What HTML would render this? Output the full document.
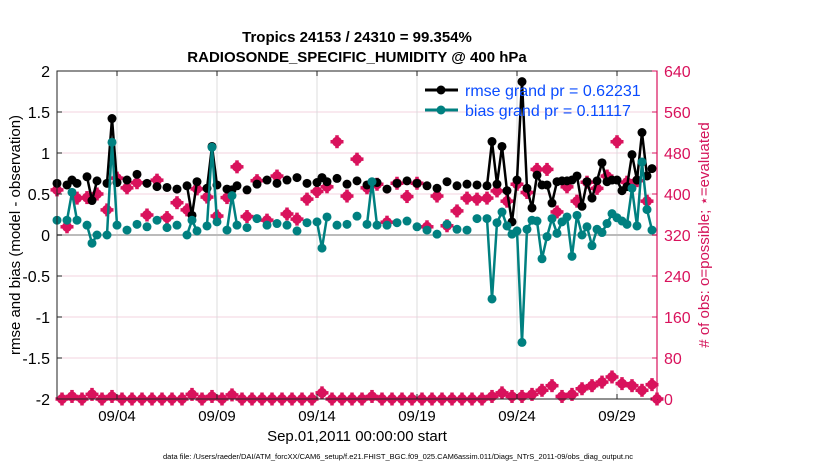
<!DOCTYPE html>
<html><head><meta charset="utf-8"><style>
body{margin:0;background:#fff;}
svg{display:block;font-family:"Liberation Sans",Arial,sans-serif;}
</style></head><body>
<svg id="chart" width="830" height="470" viewBox="0 0 830 470" xmlns="http://www.w3.org/2000/svg">
<rect width="830" height="470" fill="#fff"/>
<text x="357" y="64" text-anchor="middle" font-size="15" font-weight="bold" dy="-22">Tropics 24153 / 24310 = 99.354%</text>
<text x="357" y="62" text-anchor="middle" font-size="15" font-weight="bold">RADIOSONDE_SPECIFIC_HUMIDITY @ 400 hPa</text>
<g id="grid"></g>
<g id="marks"></g>
<g id="axes"></g>
<text transform="translate(20,235) rotate(-90)" text-anchor="middle" font-size="15">rmse and bias (model - observation)</text>
<text transform="translate(709,235) rotate(-90)" text-anchor="middle" font-size="15" fill="#d4145a"># of obs: o=possible; ⋆=evaluated</text>
<text x="357" y="441" text-anchor="middle" font-size="15">Sep.01,2011 00:00:00 start</text>
<text x="398" y="459" text-anchor="middle" font-size="7.5">data file: /Users/raeder/DAI/ATM_forcXX/CAM6_setup/f.e21.FHIST_BGC.f09_025.CAM6assim.011/Diags_NTrS_2011-09/obs_diag_output.nc</text>
<g>
<line x1="425" y1="90" x2="458" y2="90" stroke="#000" stroke-width="3"/><circle cx="441" cy="90" r="4.5" fill="#000"/>
<text x="465" y="96" font-size="16" fill="#0a4cff">rmse grand pr = 0.62231</text>
<line x1="425" y1="110" x2="458" y2="110" stroke="#008080" stroke-width="3"/><circle cx="441" cy="110" r="4.5" fill="#008080"/>
<text x="465" y="116" font-size="16" fill="#0a4cff">bias grand pr = 0.11117</text>
</g>
</svg>
<script>
// main times: d = k*0.5 (00Z/12Z); off times: d = j*0.5+0.25 (06Z/18Z)
const mainRmse=[.63,.61,.63,.71,.66,.63,.64,.67,.74,.63,.59,.58,.56,.60,.65,.57,.61,.56,.60,.55,.62,.67,.63,.67,.70,.63,.64,.65,.69,.62,.66,.61,.64,.56,.63,.66,.63,.60,.57,.65,.60,.62,.61,.60,.62,.54,.67,.57,.73,.61,.65,.66,.72,.65,.66,.65,.67,.59,.67,.72,null];
const mainBias=[.18,.18,.18,.12,0,0,.12,.06,.13,.10,.18,.09,.12,0,.05,.11,.16,.06,.12,.09,.20,.12,.14,.12,.05,.15,.16,.22,.12,.13,.23,.13,.12,.12,.15,.17,.10,.06,.01,.13,.07,.06,.20,.20,.15,.11,.05,.07,.17,-.02,.02,.22,.24,.10,.07,.14,.21,.13,.11,.31,null];
const mainCount=[408,336,392,393,400,369,431,412,422,359,427,354,383,369,410,394,357,393,453,356,426,349,435,361,351,390,405,414,502,396,468,412,419,345,421,395,421,336,396,338,367,392,390,392,406,386,419,403,448,448,365,414,386,423,411,435,502,423,426,386,0];
const offRmse=[null,.67,null,.42,null,1.42,null,null,null,null,null,null,null,.24,null,1.08,null,.55,null,null,null,null,null,null,null,null,.70,null,null,null,null,.64,null,null,null,null,null,null,null,null,null,null,null,1.14,1.08,.16,1.87,.33,.61,.39,.66,.67,.35,.45,.88,.67,.54,.98,1.25,.81];
const offBias=[null,.52,null,-.10,null,1.13,null,null,null,null,null,null,null,.18,null,1.07,null,.48,null,null,null,null,null,null,null,null,-.16,null,null,null,null,.65,null,null,null,null,null,null,null,null,null,null,null,-.78,.28,.01,-1.31,.18,-.29,.20,.16,-.26,0,-.13,.03,.26,.17,.57,.89,.06];
const offCount=[0,5,0,9,0,5,0,0,0,0,0,0,0,9,0,5,0,8,0,0,0,0,0,0,0,0,12,0,0,0,0,5,0,0,0,0,0,0,0,0,0,0,0,5,12,5,5,9,17,26,5,9,20,26,33,43,30,26,17,28];
const xTickLabels=["09/04","09/09","09/14","09/19","09/24","09/29"];
const xTickDays=[3,8,13,18,23,28];
const yLeftTicks=[2,1.5,1,0.5,0,-0.5,-1,-1.5,-2];
const yRightTicks=[0,80,160,240,320,400,480,560,640];

const NS="http://www.w3.org/2000/svg";
const L=57,R=657,T=71,B=399;
const X=d=>L+d*20;
const YL=v=>235-v*82;
const YR=c=>B-c*(B-T)/640;
function mk(tag,attrs,parent){const e=document.createElementNS(NS,tag);for(const k in attrs)e.setAttribute(k,attrs[k]);parent.appendChild(e);return e;}
const grid=document.getElementById('grid'),marks=document.getElementById('marks'),axes=document.getElementById('axes');

yRightTicks.forEach(c=>{const g=mk('line',{x1:L,x2:R,y1:YR(c),y2:YR(c),stroke:'#f3d3df','stroke-width':1},grid);

});
xTickDays.forEach(d=>{const g=mk('line',{x1:X(d),x2:X(d),y1:T,y2:B,stroke:'#dcdcdc','stroke-width':1},grid);

});
const z=mk('line',{x1:L,x2:R,y1:YL(0),y2:YL(0),stroke:'#bbb','stroke-width':2},grid);



const times=[],rm=[],bi=[],cnt=[];
for(let k=0;k<mainRmse.length;k++){times.push(k*0.5);rm.push(mainRmse[k]);bi.push(mainBias[k]);cnt.push(mainCount[k]);
 if(k<offRmse.length){times.push(k*0.5+0.25);rm.push(offRmse[k]);bi.push(offBias[k]);cnt.push(offCount[k]);}}

function pink(x,y){const g=mk('g',{},marks);


mk('circle',{cx:x,cy:y,r:5,fill:'#d9125c'},g);
mk('line',{x1:x-6.5,x2:x+6.5,y1:y,y2:y,stroke:'#d9125c','stroke-width':3.5},g);
mk('line',{x1:x,x2:x,y1:y-6.5,y2:y+6.5,stroke:'#d9125c','stroke-width':3.5},g);}
times.forEach((t,i)=>pink(X(t),YR(cnt[i])));

function series(vals,color,name){
 let seg=[];const segs=[];
 vals.forEach((v,i)=>{if(v===null){if(seg.length)segs.push(seg);seg=[];}else seg.push([X(times[i]),YL(v)]);});
 if(seg.length)segs.push(seg);
 segs.forEach(s=>{if(s.length>1){const p=mk('polyline',{points:s.map(q=>q.join(',')).join(' '),fill:'none',stroke:color,'stroke-width':2.5},marks);
 
 }});
 vals.forEach((v,i)=>{if(v!==null){const c=mk('circle',{cx:X(times[i]),cy:YL(v),r:4.5,fill:color},marks);
 
 }});
}
series(rm,'#000','rmse');
series(bi,'#008080','bias');

mk('rect',{x:L,y:T,width:R-L,height:B-T,fill:'none',stroke:'#222','stroke-width':1},axes);
mk('line',{x1:R,x2:R,y1:T,y2:B,stroke:'#d9125c','stroke-width':1.2},axes);
yLeftTicks.forEach(v=>{mk('line',{x1:L,x2:L+5,y1:YL(v),y2:YL(v),stroke:'#222'},axes);
 const t=mk('text',{x:L-7,y:YL(v)+6,'text-anchor':'end','font-size':16},axes);t.textContent=v;
 
 });
yRightTicks.forEach(c=>{mk('line',{x1:R-5,x2:R,y1:YR(c),y2:YR(c),stroke:'#d9125c'},axes);
 const t=mk('text',{x:R+7,y:YR(c)+6,'font-size':16,fill:'#d9125c'},axes);t.textContent=c;
 
 });
xTickDays.forEach((d,i)=>{mk('line',{x1:X(d),x2:X(d),y1:B,y2:B-5,stroke:'#222'},axes);
 mk('line',{x1:X(d),x2:X(d),y1:T,y2:T+5,stroke:'#222'},axes);
 const t=mk('text',{x:X(d),y:B+22,'text-anchor':'middle','font-size':15},axes);t.textContent=xTickLabels[i];
 
 });
</script>
</body></html>
